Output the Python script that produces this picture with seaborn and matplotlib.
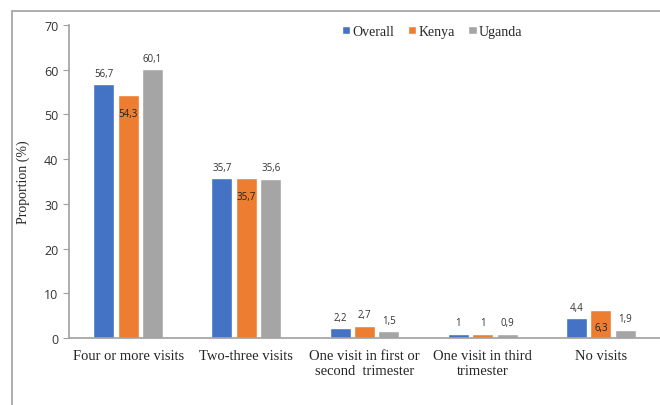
import matplotlib
matplotlib.use("Agg")
import matplotlib.pyplot as plt
import seaborn as sns
import pandas as pd
from matplotlib.patches import Rectangle

categories = ["Four or more visits", "Two-three visits",
              "One visit in first or\nsecond  trimester",
              "One visit in third\ntrimester", "No visits"]
series = ["Overall", "Kenya", "Uganda"]
overall = [56.7, 35.7, 2.2, 1.0, 4.4]
kenya = [54.3, 35.7, 2.7, 1.0, 6.3]
uganda = [60.1, 35.6, 1.5, 0.9, 1.9]
colors = ["#4472C4", "#ED7D31", "#A5A5A5"]

df = pd.DataFrame({
    "category": categories * 3,
    "series": [s for s in series for _ in categories],
    "value": overall + kenya + uganda,
})

sns.set_style("white")
serif = ["Liberation Serif", "DejaVu Serif"]
sans = ["Open Sans", "DejaVu Sans"]

fig = plt.figure(figsize=(6.6, 4.06), dpi=100)
ax = fig.add_axes([0.1045, 0.165, 0.8955, 0.771])

sns.barplot(data=df, x="category", y="value", hue="series", order=categories,
            hue_order=series, palette=colors, width=0.62, gap=0.14,
            saturation=1, ax=ax, legend=True)

ax.set_ylim(0, 70)
ax.set_yticks(range(0, 71, 10))
ax.set_xlim(-0.5, 4.5)
ax.set_xlabel("")
ax.set_ylabel("Proportion (%)", family=serif, fontsize=10, labelpad=10)
ax.tick_params(axis="y", labelsize=9, length=4, color="#A0A0A0", direction="out", left=True)
ax.tick_params(axis="x", length=0, pad=8)
for lab in ax.get_yticklabels():
    lab.set_family(sans)
    lab.set_color("#333333")
for lab in ax.get_xticklabels():
    lab.set_family(serif)
    lab.set_fontsize(10.5)
for side in ["top", "right"]:
    ax.spines[side].set_visible(False)
for side in ["left", "bottom"]:
    ax.spines[side].set_color("#A0A0A0")
    ax.spines[side].set_linewidth(1.2)

# data labels
for container, name in zip(ax.containers, series):
    labels = [f"{v:g}".replace(".", ",") for v in container.datavalues]
    if name == "Kenya":
        inside = [l if v > 5 else "" for l, v in zip(labels, container.datavalues)]
        outside = [l if v <= 5 else "" for l, v in zip(labels, container.datavalues)]
        ax.bar_label(container, labels=inside, padding=-17, fontsize=7,
                     family=sans, color="#222222")
        ax.bar_label(container, labels=outside, padding=4, fontsize=7,
                     family=sans, color="#333333")
    else:
        ax.bar_label(container, labels=labels, padding=4, fontsize=7,
                     family=sans, color="#333333")

leg = ax.legend(loc="upper left", bbox_to_anchor=(0.44, 1.04), ncol=3,
                frameon=False, handlelength=0.6, handleheight=0.6,
                handletextpad=0.15, columnspacing=1.0,
                prop={"family": serif, "size": 10})

fig.patches.append(Rectangle((12 / 660, -0.1), 1.2, 1 - 12 / 406 + 0.1,
                             transform=fig.transFigure, fill=False,
                             edgecolor="#A0A0A0", linewidth=1.2))

fig.savefig("out.png", dpi=100)
